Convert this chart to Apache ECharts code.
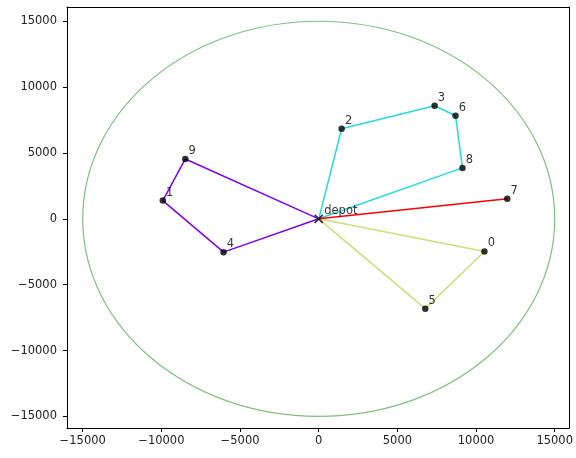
<!DOCTYPE html>
<html>
<head>
<meta charset="utf-8">
<script src="https://cdn.jsdelivr.net/npm/echarts@6/dist/echarts.min.js"></script>
<style>html,body{margin:0;padding:0;background:#fff;}#c{width:576px;height:458px;}</style>
</head>
<body>
<div id="c"></div>
<script>
// Node coordinates (index = node id)
var nodeX = [10532, -9911, 1456, 7367, -6051, 6772, 8696, 11987, 9139, -8481];
var nodeY = [-2477, 1386, 6841, 8583, -2530, -6818, 7826, 1515, 3864, 4545];
var nodeLabels = ['0','1','2','3','4','5','6','7','8','9'];
var depot = [0, 0];
var depotLabel = 'depot';
var circleRadius = 15000;
// Routes (node ids, each starts and ends at the depot)
var routePurple = [9, 1, 4];
var routeCyan = [2, 3, 6, 8];
var routeYellow = [0, 5];
var routeRed = [7];
var routes = [routePurple, routeCyan, routeYellow, routeRed];
var routeColors = ['#8000ff', '#22dae0', '#cfdd78', '#ff0000'];
var tickValues = [-15000, -10000, -5000, 0, 5000, 10000, 15000];

var FONT = 'DejaVu Sans';
function fmt(v){ return String(v).replace('-', '\u2212'); }

var series = [];
// circle
series.push({
  type: 'custom',
  data: [[depot[0], depot[1]]],
  silent: true,
  z: 1,
  renderItem: function(params, api){
    var c = api.coord([depot[0], depot[1]]);
    var sx = api.size([circleRadius, 0])[0];
    var sy = api.size([0, circleRadius])[1];
    return {
      type: 'ellipse',
      shape: {cx: c[0], cy: c[1], rx: sx, ry: sy},
      style: {fill: 'none', stroke: 'rgba(0,128,0,0.5)', lineWidth: 1.2}
    };
  }
});
routes.forEach(function(r, i){
  var pts = [[depot[0], depot[1]]];
  r.forEach(function(n){ pts.push([nodeX[n], nodeY[n]]); });
  pts.push([depot[0], depot[1]]);
  series.push({
    type: 'line', data: pts, symbol: 'none', z: 2,
    lineStyle: {color: routeColors[i], width: 1.5},
    animation: false
  });
});
var nodeData = nodeX.map(function(x, i){ return {value: [x, nodeY[i]], name: nodeLabels[i]}; });
series.push({
  type: 'scatter', data: nodeData, symbol: 'circle', symbolSize: 6.5, z: 3,
  itemStyle: {color: '#000'},
  label: {show: true, position: 'right', distance: 0, offset: [0, -8],
    formatter: function(p){ return p.name; },
    fontFamily: FONT, fontSize: 11.5, color: '#000'}
});
series.push({
  type: 'scatter', data: [{value: depot, name: depotLabel}], z: 4,
  symbol: 'path://M0,0L10,10M10,0L0,10', symbolSize: 8,
  itemStyle: {color: 'none', borderColor: '#000', borderWidth: 1.6},
  label: {show: true, position: 'right', distance: 0, offset: [-1, -8],
    formatter: function(p){ return p.name; },
    fontFamily: FONT, fontSize: 11.5, color: '#000'}
});

var X_MIN = -16000, X_MAX = 15920, Y_MIN = -15880, Y_MAX = 16080;
function mainAxis(min, max, margin){
  return {
    type: 'value', min: min, max: max,
    splitLine: {show: false},
    axisLine: {show: true, onZero: false, lineStyle: {color: '#000', width: 1}},
    axisTick: {show: true, inside: false, length: 4, customValues: tickValues, lineStyle: {color: '#000', width: 1}},
    axisLabel: {customValues: tickValues, formatter: fmt, fontFamily: FONT, fontSize: 11.5, color: '#222', margin: margin}
  };
}
function frameAxis(min, max, pos){
  return {
    type: 'value', min: min, max: max, position: pos,
    splitLine: {show: false},
    axisLine: {show: true, onZero: false, lineStyle: {color: '#000', width: 1}},
    axisTick: {show: false}, axisLabel: {show: false}
  };
}
var chart = echarts.init(document.getElementById('c'), null, {renderer: 'canvas'});
var xa = mainAxis(X_MIN, X_MAX, 7); xa.position = 'bottom';
var ya = mainAxis(Y_MIN, Y_MAX, 10); ya.position = 'left';
chart.setOption({
  animation: false,
  backgroundColor: '#fff',
  grid: {left: 67, right: 4, top: 7, bottom: 30, show: false, containLabel: false},
  xAxis: [xa, frameAxis(X_MIN, X_MAX, 'top')],
  yAxis: [ya, frameAxis(Y_MIN, Y_MAX, 'right')],
  series: series
});
</script>
</body>
</html>
